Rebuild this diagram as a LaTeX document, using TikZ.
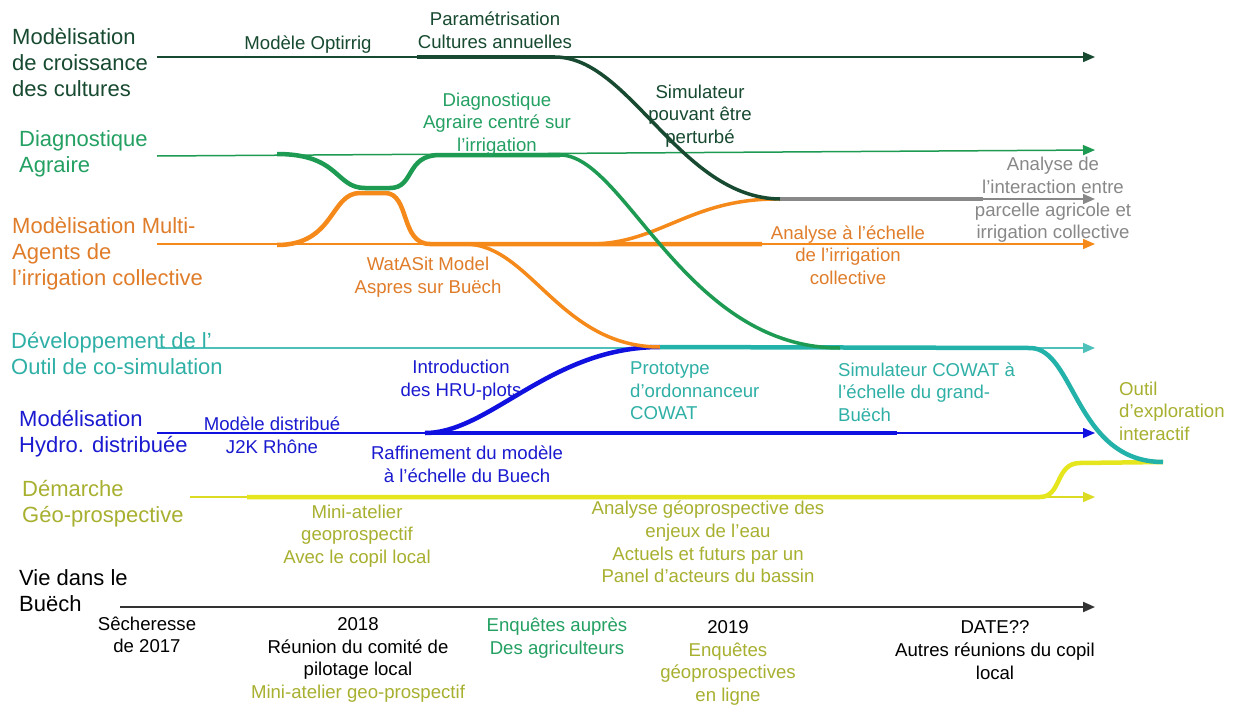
\documentclass[tikz,border=0pt]{standalone}
\usepackage{fontspec}
\setmainfont{Liberation Sans}
\usetikzlibrary{arrows.meta}
\definecolor{dkg}{HTML}{174A30}
\definecolor{grn}{HTML}{1E9B52}
\definecolor{grntxt}{HTML}{23A062}
\definecolor{org}{HTML}{F5891A}
\definecolor{orgtxt}{HTML}{E07D2A}
\definecolor{teal}{HTML}{22B2AA}
\definecolor{tealtxt}{HTML}{2FB0A6}
\definecolor{blu}{HTML}{1010E0}
\definecolor{blutxt}{HTML}{1A1AD0}
\definecolor{yel}{HTML}{E6E61E}
\definecolor{olive}{HTML}{A8B030}
\definecolor{gry}{HTML}{888888}
\begin{document}
\begin{tikzpicture}[x=1pt,y=-1pt,
  base/.style={line width=1.5pt,-{Triangle[length=12pt,width=10pt]}},
  trk/.style={line width=4.5pt},
  big/.style={font=\fontsize{22}{26}\selectfont,align=left,anchor=west,inner sep=0pt},
  sm/.style={font=\fontsize{18.6}{22.6}\selectfont,align=center,inner sep=0pt},
  sml/.style={font=\fontsize{18.6}{22.6}\selectfont,align=left,anchor=west,inner sep=0pt}]
\useasboundingbox[fill=white] (0,0) rectangle (1234,704);

% ---- coordinates
\coordinate (a1s) at (157,57);  \coordinate (a1e) at (1095,57);
\coordinate (a2s) at (157,156); \coordinate (a2e) at (1095,150);
\coordinate (a3s) at (157,244); \coordinate (a3e) at (1095,244);
\coordinate (a4s) at (157,348); \coordinate (a4e) at (1095,348);
\coordinate (a5s) at (157,433); \coordinate (a5e) at (1095,433);
\coordinate (a6s) at (190,497); \coordinate (a6e) at (1095,497);
\coordinate (ts) at (120,607);  \coordinate (te) at (1095,607);
\coordinate (jA) at (780,199);  \coordinate (ge) at (1095,199);
\coordinate (jB) at (660,347);
\coordinate (jC) at (1163,462);

% ---- thin base lines
\draw[base,dkg] (a1s) -- (a1e);
\draw[base,grn] (a2s) -- (a2e);
\draw[base,org] (a3s) -- (a3e);
\draw[base,gry] (jA) -- (ge);
\draw[base,teal!80] (a4s) -- (a4e);
\draw[base,blu] (a5s) -- (a5e);
\draw[base,yel!80!olive] (a6s) -- (a6e);
\draw[line width=2pt,-{Triangle[length=12pt,width=10pt]},black!80] (ts) -- (te);

% ---- thick tracks
% yellow
\draw[trk,yel] (247,497) -- (1040,497) .. controls (1062,497) and (1055,463) .. (1080,463) -- (jC);
% blue
\draw[trk,blu] (425,433) -- (897,433);
\draw[trk,blu] (425,433) .. controls (490,433) and (550,347) .. (jB);
% orange
\draw[trk,org] (277,245) .. controls (335,245) and (330,193) .. (360,193) -- (385,193)
   .. controls (410,193) and (400,244) .. (430,244) -- (762,244);
\draw[trk,org,line width=3.5pt] (590,244) .. controls (660,244) and (690,198) .. (jA);
\draw[trk,org,line width=3.5pt] (465,244) .. controls (530,244) and (560,347) .. (jB);
% teal
\draw[trk,teal] (jB) -- (1030,348) .. controls (1075,348) and (1075,462) .. (jC);
% green
\draw[trk,grn] (277,154) .. controls (340,154) and (335,188) .. (365,188) -- (390,188)
   .. controls (415,188) and (405,155) .. (440,155) -- (560,155);
\draw[trk,grn,line width=3.5pt] (560,155) .. controls (625,155) and (685,348) .. (840,348);
% dark green
\draw[trk,dkg] (417,57) -- (555,57);
\draw[trk,dkg,line width=3.5pt] (555,57) .. controls (630,57) and (680,198) .. (jA);
% gray
\draw[trk,gry] (jA) -- (983,199);

% ---- left labels
\node[big,dkg] (L1) at (12,63) {Modèlisation\\de croissance\\des cultures};
\node[big,grntxt] (L2) at (19,154) {Diagnostique\\Agraire};
\node[big,orgtxt] (L3) at (12,254) {Modèlisation Multi-\\Agents de\\l’irrigation collective};
\node[big,tealtxt] (L4) at (11,354) {Développement de l’\\Outil de co-simulation};
\node[big,blutxt] (L5) at (19,434) {Modélisation\\Hydro. distribuée};
\node[big,olive] (L6) at (22,504) {Démarche\\Géo-prospective};
\node[big,black] (L7) at (19,590.5) {Vie dans le\\Buëch};

% ---- small labels
\node[sm,dkg] (t1) at (308,45) {Modèle Optirrig};
\node[sm,dkg] (t2) at (495,30) {Paramétrisation\\Cultures annuelles};
\node[sm,dkg] (t3) at (700,116) {Simulateur\\pouvant être\\perturbé};
\node[sm,grntxt] (t4) at (497,124) {Diagnostique\\Agraire centré sur\\l’irrigation};
\node[sm,gry] (t5) at (1053,200) {Analyse de\\l’interaction entre\\parcelle agricole et\\irrigation collective};
\node[sm,orgtxt] (t6) at (428,277) {WatASit Model\\Aspres sur Buëch};
\node[sm,orgtxt] (t7) at (848,255) {Analyse à l’échelle\\de l’irrigation\\collective};
\node[sm,blutxt] (t8) at (461,380) {Introduction\\des HRU-plots};
\node[sml,tealtxt] (t9) at (630,391) {Prototype\\d’ordonnanceur\\COWAT};
\node[sml,tealtxt] (t10) at (838,392) {Simulateur COWAT à\\l’échelle du grand-\\Buëch};
\node[sml,olive] (t11) at (1119,411) {Outil\\d’exploration\\interactif};
\node[sm,blutxt] (t12) at (272,435) {Modèle distribué\\J2K Rhône};
\node[sm,blutxt] (t13) at (467,464) {Raffinement du modèle\\à l’échelle du Buech};
\node[sm,olive] (t14) at (357,536) {Mini-atelier\\geoprospectif\\Avec le copil local};
\node[sm,olive] (t15) at (708,542) {Analyse géoprospective des\\enjeux de l’eau\\Actuels et futurs par un\\Panel d’acteurs du bassin};
\node[sm,black] (t16) at (147,635) {Sêcheresse\\de 2017};
\node[sm,black] (t17) at (358,660) {2018\\Réunion du comité de\\pilotage local\\\textcolor{olive}{Mini-atelier geo-prospectif}};
\node[sm,grntxt] (t18) at (557,638) {Enquêtes auprès\\Des agriculteurs};
\node[sm,black] (t19) at (728,663) {2019\\\textcolor{olive}{Enquêtes}\\\textcolor{olive}{géoprospectives}\\\textcolor{olive}{en ligne}};
\node[sm,black] (t20) at (995,650) {DATE??\\Autres réunions du copil\\local};
\end{tikzpicture}
\end{document}
